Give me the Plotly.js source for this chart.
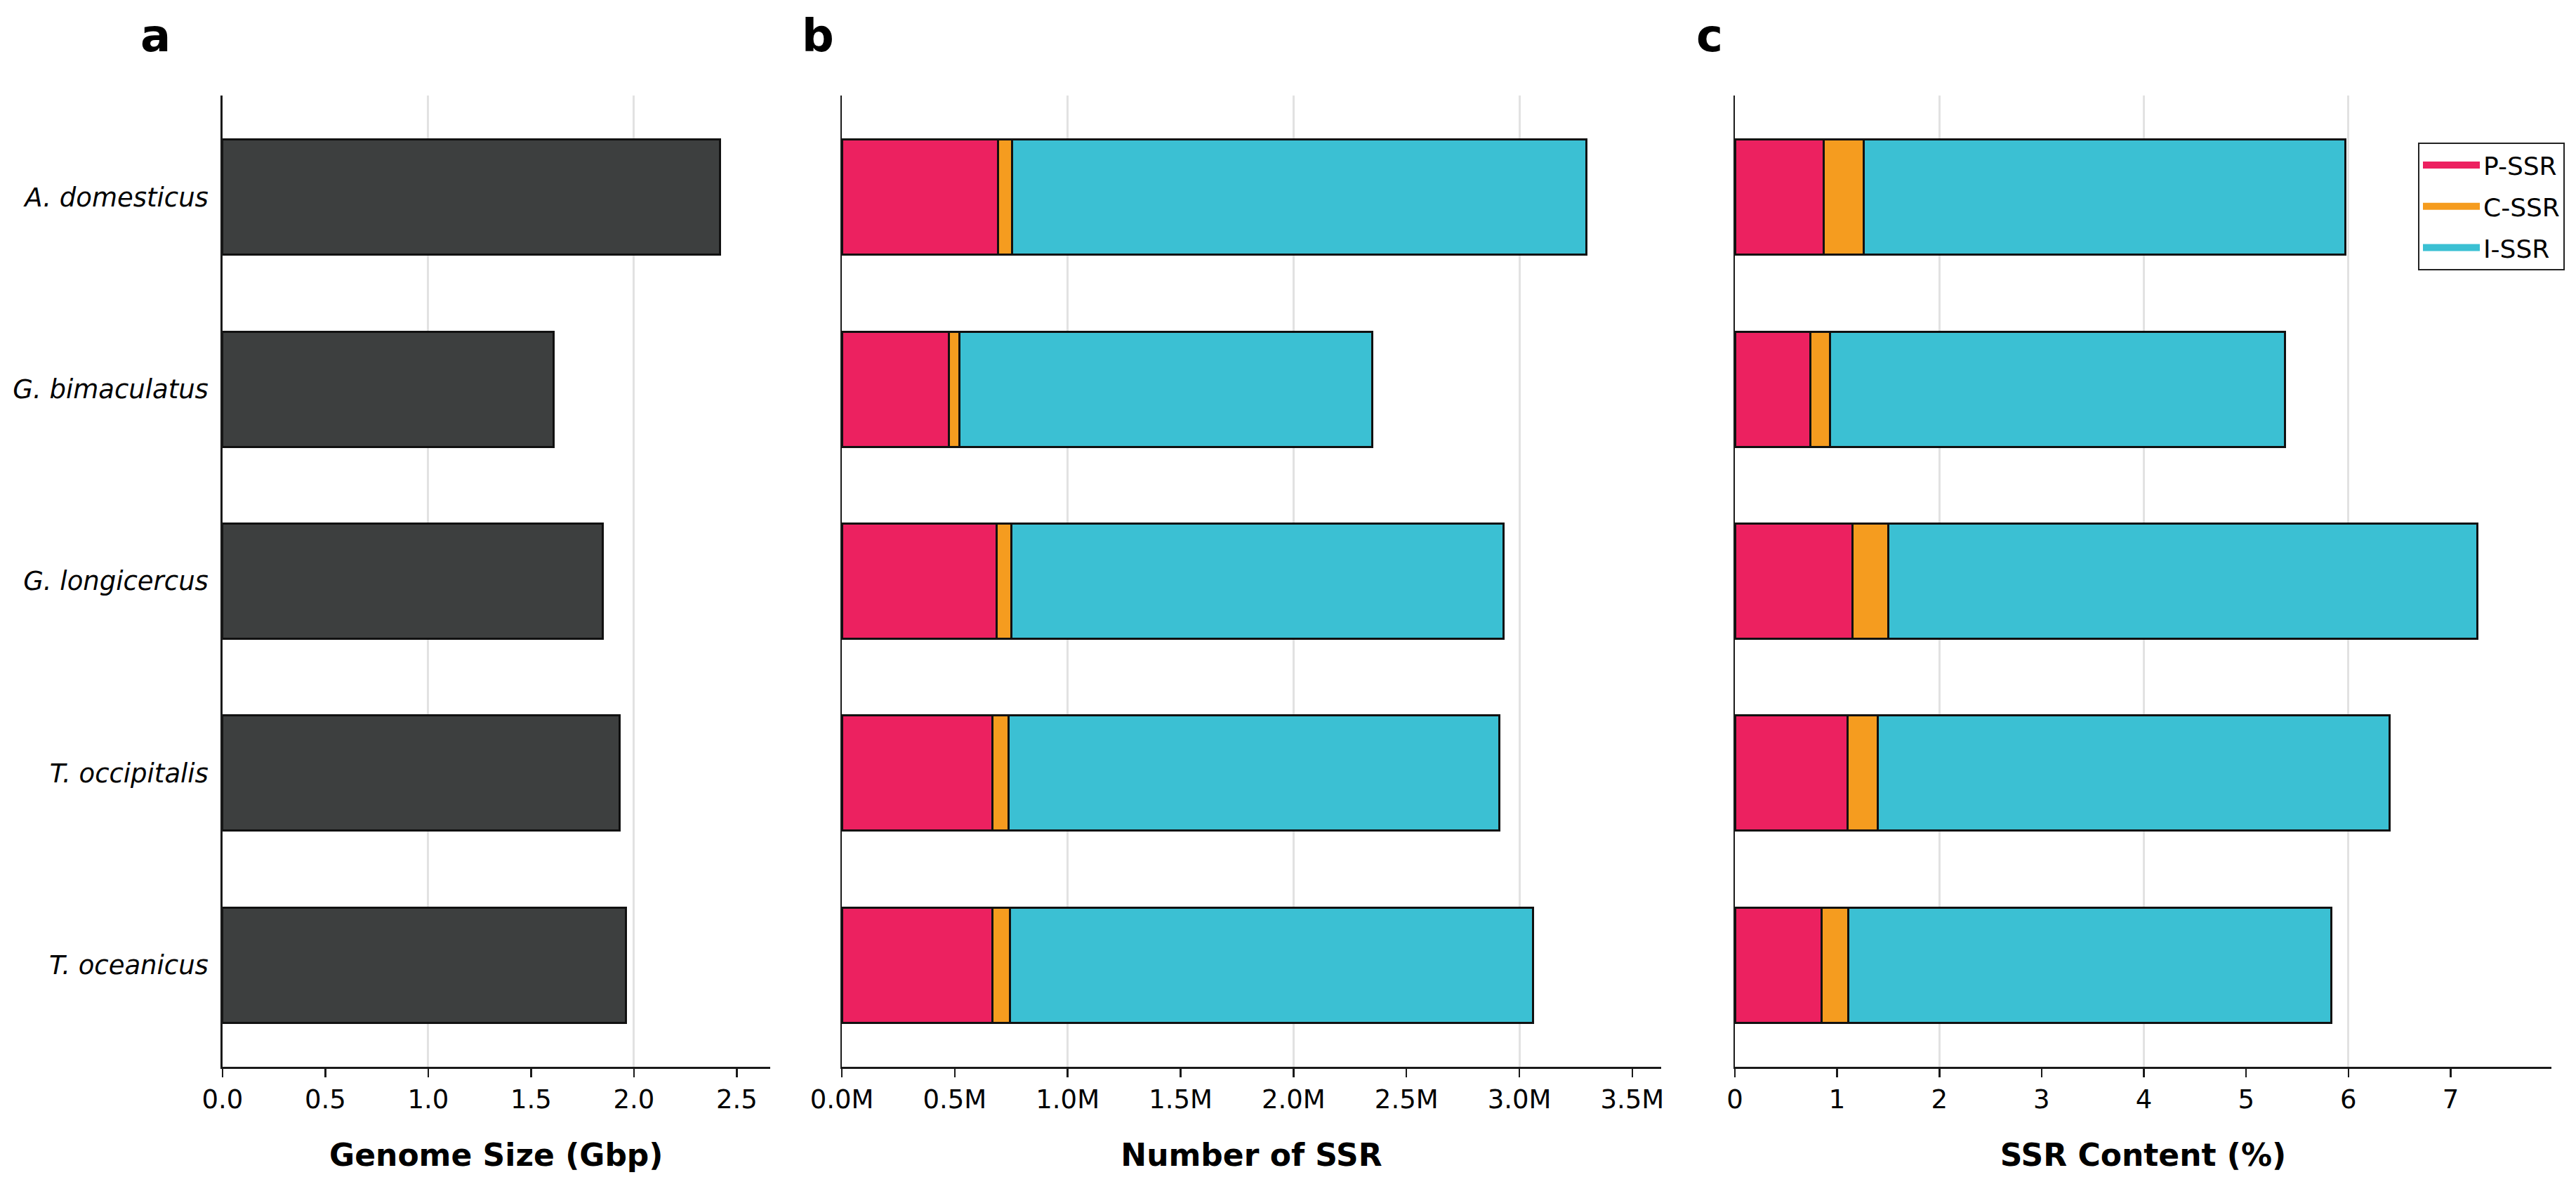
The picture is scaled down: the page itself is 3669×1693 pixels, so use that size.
<!DOCTYPE html>
<html><head><meta charset="utf-8">
<script src="https://cdn.plot.ly/plotly-3.0.1.min.js"></script>
<style>html,body{margin:0;padding:0;background:#fff}#chart{width:3669px;height:1693px}</style>
</head><body><div id="chart"></div>
<script>
// ---- data ----
const species = ['A. domesticus', 'G. bimaculatus', 'G. longicercus', 'T. occipitalis', 'T. oceanicus'];
const genomeSizeGbp = [2.42, 1.61, 1.85, 1.93, 1.96];
const pSSRCount = [693000, 473000, 686000, 668000, 668000];
const cSSRCount = [62000, 47000, 66000, 71000, 77000];
const iSSRCount = [2543000, 1830000, 2178000, 2173000, 2314000];
const pSSRContent = [0.87, 0.74, 1.15, 1.10, 0.85];
const cSSRContent = [0.39, 0.19, 0.35, 0.30, 0.26];
const iSSRContent = [4.71, 4.45, 5.76, 5.00, 4.72];
const seriesNames = ['P-SSR', 'C-SSR', 'I-SSR'];
const countTickVals = [0, 500000, 1000000, 1500000, 2000000, 2500000, 3000000, 3500000];
const countTickText = ['0.0M', '0.5M', '1.0M', '1.5M', '2.0M', '2.5M', '3.0M', '3.5M'];

// ---- styles ----
const FONT = 'DejaVu Sans';
const colors = ['#EC2160', '#F59C1F', '#3BC0D3'];
const edge = {color: '#111111', width: 3};
const barW = 0.6;

function sum(a, b, c) { return a.map((v, i) => v + b[i] + c[i]); }
const maxA = Math.max(...genomeSizeGbp) * 1.1;
const maxB = Math.max(...sum(pSSRCount, cSSRCount, iSSRCount)) * 1.1;
const maxC = Math.max(...sum(pSSRContent, cSSRContent, iSSRContent)) * 1.1;

const traces = [];
traces.push({type: 'bar', orientation: 'h', y: species, x: genomeSizeGbp, width: barW,
  marker: {color: '#3D3F3F', line: edge}, xaxis: 'x', yaxis: 'y', showlegend: false, hoverinfo: 'x+y'});
const countSeries = [pSSRCount, cSSRCount, iSSRCount];
const contentSeries = [pSSRContent, cSSRContent, iSSRContent];
countSeries.forEach((s, k) => traces.push({type: 'bar', orientation: 'h', y: species, x: s, width: barW,
  name: seriesNames[k], legendgroup: seriesNames[k], marker: {color: colors[k], line: edge},
  xaxis: 'x2', yaxis: 'y2', showlegend: false}));
contentSeries.forEach((s, k) => traces.push({type: 'bar', orientation: 'h', y: species, x: s, width: barW,
  name: seriesNames[k], legendgroup: seriesNames[k], marker: {color: colors[k], line: edge},
  xaxis: 'x3', yaxis: 'y3', showlegend: false}));
// legend swatches (wide colour patches like the reference legend)
seriesNames.forEach((n, k) => traces.push({type: 'scatter', mode: 'lines', x: [null], y: [null],
  name: n, legendgroup: n, line: {color: colors[k], width: 30}, xaxis: 'x3', yaxis: 'y3',
  showlegend: true, hoverinfo: 'skip'}));
// invisible helpers so the grid-only overlay axes are drawn
[['x4', 'y'], ['x5', 'y2'], ['x6', 'y3']].forEach(p => traces.push({type: 'scatter', mode: 'markers',
  x: [], y: [], xaxis: p[0], yaxis: p[1], showlegend: false, hoverinfo: 'skip'}));

const W = 3669, H = 1693;
const yDom = [1 - 1519 / H, 1 - 136 / H];
const dA = [316.8 / W, 1096.8 / W];
const dB = [1199 / W, 2366 / W];
const dC = [2471 / W, 3634 / W];

const tickFont = {family: FONT, size: 37, color: '#000'};
const titleFont = {family: FONT, size: 44, color: '#000'};
const lineCol = '#1a1a1a';
function xAx(domain, range, extra, title) {
  return Object.assign({domain: domain, range: [0, range], anchor: extra.anchor, showgrid: false, zeroline: false,
    showline: true, linecolor: lineCol, linewidth: 2.5, ticks: 'outside', ticklen: 12, tickwidth: 2.5,
    tickcolor: lineCol, tickfont: tickFont, title: {text: '<b>' + title + '</b>', font: titleFont, standoff: 44}}, extra);
}
function gridAx(over, anchor, range, dtick) {
  return {overlaying: over, anchor: anchor, range: [0, range], tick0: 0, dtick: dtick, showgrid: true,
    gridcolor: '#e2e2e2', gridwidth: 3, showticklabels: false, ticks: '', showline: false, zeroline: false};
}
function yAx(domain, anchor, labels) {
  return {domain: yDom, anchor: anchor, type: 'category', categoryorder: 'array', categoryarray: species,
    range: [4.53, -0.53], showgrid: false, zeroline: false, showline: true, linecolor: lineCol, linewidth: 2.5,
    ticks: '', showticklabels: labels, ticklabelstandoff: 10,
    tickfont: {family: FONT, size: 37, color: '#000', style: 'italic'}};
}

const layout = {
  width: W, height: H, margin: {l: 0, r: 0, t: 0, b: 0}, paper_bgcolor: '#fff', plot_bgcolor: 'rgba(0,0,0,0)',
  barmode: 'stack', font: {family: FONT, color: '#000'},
  xaxis: xAx(dA, maxA, {anchor: 'y', dtick: 0.5, tick0: 0, tickformat: '.1f'}, 'Genome Size (Gbp)'),
  xaxis2: xAx(dB, maxB, {anchor: 'y2', tickmode: 'array', tickvals: countTickVals, ticktext: countTickText}, 'Number of SSR'),
  xaxis3: xAx(dC, maxC, {anchor: 'y3', dtick: 1, tick0: 0}, 'SSR Content (%)'),
  xaxis4: gridAx('x', 'y', maxA, 1),
  xaxis5: gridAx('x2', 'y2', maxB, 1000000),
  xaxis6: gridAx('x3', 'y3', maxC, 2),
  yaxis: yAx(yDom, 'x', true),
  yaxis2: yAx(yDom, 'x2', false),
  yaxis3: yAx(yDom, 'x3', false),
  legend: {x: 3653 / W, y: 1 - 203 / H, xanchor: 'right', yanchor: 'top', bgcolor: '#fff', bordercolor: '#222',
    borderwidth: 2, font: {family: FONT, size: 36, color: '#000'}, traceorder: 'grouped', tracegroupgap: 9,
    itemwidth: 81},
  annotations: [['a', 221], ['b', 1165], ['c', 2435]].map(p => ({text: '<b>' + p[0] + '</b>', x: p[1] / W, y: 1 - 51 / H,
    xref: 'paper', yref: 'paper', xanchor: 'center', yanchor: 'middle', showarrow: false,
    font: {family: FONT, size: 64, color: '#000'}})),
  showlegend: true
};
Plotly.newPlot('chart', traces, layout, {staticPlot: true});
</script></body></html>
